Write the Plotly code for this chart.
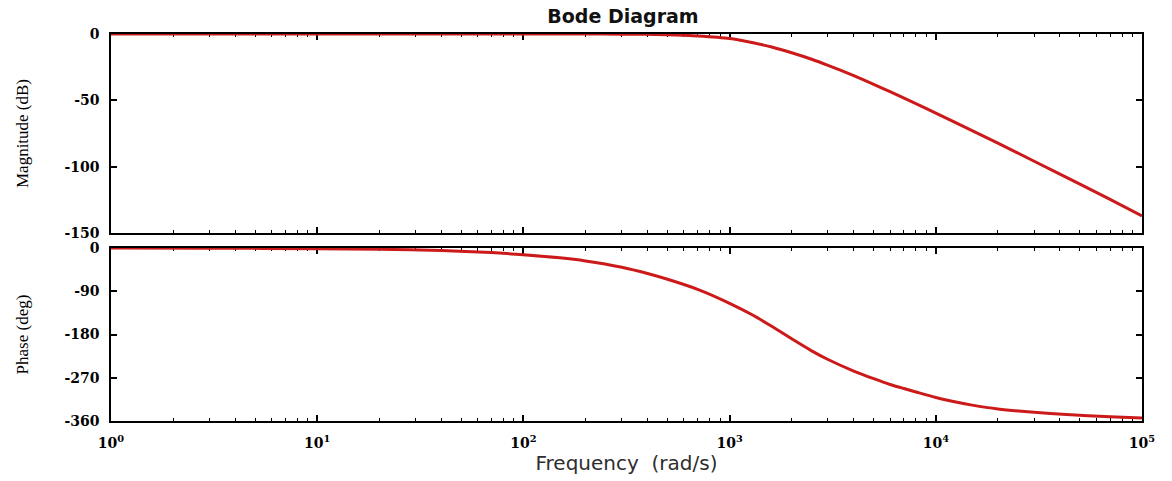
import plotly.graph_objects as go

# Frequency response samples (rad/s), magnitude (dB) and phase (deg)
freq_mag = [1, 10, 50, 100, 200, 300, 500, 700, 1000, 1300, 1600, 2000, 2500, 3000,
            4000, 5000, 6000, 8000, 10000, 15000, 20000, 30000, 50000, 70000, 100000]
magnitude_db = [0, 0, 0, 0, -0.05, -0.1, -0.5, -1.5, -3.4, -6.6, -9.8, -14.1, -19.0, -23.6,
                -31.4, -37.9, -43.5, -52.4, -59.6, -72.8, -82.3, -95.9, -113.2, -124.7, -137.1]

freq_phase = [1, 3, 10, 20, 40, 70, 100, 150, 200, 300, 400, 500, 700, 1000, 1300, 1600,
              2000, 2500, 3000, 4000, 5000, 6000, 7000, 8000, 10000, 12000, 15000, 20000,
              30000, 43000, 70000, 100000]
phase_deg = [0, -0.4, -1.3, -2.6, -5.2, -9.5, -14, -20.5, -27, -40, -53, -65, -86, -115,
             -140, -163, -189, -214, -232, -256, -272, -284, -292.5, -299.5, -311, -319,
             -327, -335, -342, -346.5, -351, -353.5]

# Axis ticks
x_ticks = [1, 10, 100, 1000, 10000, 100000]
x_ticktext = ["10<sup>0</sup>", "10<sup>1</sup>", "10<sup>2</sup>",
              "10<sup>3</sup>", "10<sup>4</sup>", "10<sup>5</sup>"]
mag_ticks = [0, -50, -100, -150]
mag_ticktext = ["0", "-50", "-100", "-150"]
phase_ticks = [0, -90, -180, -270, -360]
phase_ticktext = ["0", "-90", "-180", "-270", "-360"]

minor_x = [k * 10 ** d for d in range(5) for k in range(2, 10)]

LINE_COLOR = "#cc1a1a"
tick_font = dict(family="DejaVu Serif", size=14, color="black", weight="bold")
ytitle_font = dict(family="Liberation Serif", size=17, color="black")

fig = go.Figure()
fig.add_trace(go.Scatter(x=freq_mag, y=magnitude_db, mode="lines",
                         line=dict(color=LINE_COLOR, width=3, shape="spline", smoothing=0.6),
                         xaxis="x", yaxis="y", showlegend=False))
fig.add_trace(go.Scatter(x=freq_phase, y=phase_deg, mode="lines",
                         line=dict(color=LINE_COLOR, width=3, shape="spline", smoothing=0.6),
                         xaxis="x2", yaxis="y2", showlegend=False))

common_x = dict(
    type="log", range=[0, 5], tickvals=x_ticks, ticktext=x_ticktext,
    ticks="inside", ticklen=6, tickwidth=1.5, tickcolor="black",
    showline=True, linecolor="black", linewidth=1.5, mirror="allticks",
    showgrid=False, zeroline=False, layer="below traces",
    minor=dict(tickvals=minor_x, ticks="inside", ticklen=3, tickcolor="black", tickwidth=1),
    tickfont=tick_font, ticklabelstandoff=8,
)
common_y = dict(
    ticks="inside", ticklen=6, tickwidth=1.5, tickcolor="black",
    showline=True, linecolor="black", linewidth=1.5, mirror="allticks",
    showgrid=False, zeroline=False, layer="below traces",
    tickfont=tick_font, ticklabelstandoff=7,
)

fig.update_layout(
    width=1172, height=481,
    margin=dict(l=111, r=30, t=34, b=60),
    paper_bgcolor="white", plot_bgcolor="white",
    title=dict(text="Bode Diagram", x=623 / 1172, xanchor="center",
               y=1 - 16 / 481, yanchor="middle",
               font=dict(family="DejaVu Sans", size=19, color="#111111", weight="bold")),
    xaxis=dict(common_x, domain=[0, 1], anchor="y", showticklabels=False),
    yaxis=dict(common_y, domain=[0.4858, 1], anchor="x", range=[-150, 0],
               tickvals=mag_ticks, ticktext=mag_ticktext,
               title=dict(text="Magnitude (dB)", standoff=31, font=ytitle_font)),
    xaxis2=dict(common_x, domain=[0, 1], anchor="y2", showticklabels=True,
                title=dict(text="Frequency\u00a0\u00a0(rad/s)", standoff=3,
                           font=dict(family="DejaVu Sans", size=20, color="#2e2e2e"))),
    yaxis2=dict(common_y, domain=[0, 0.447], anchor="x2", range=[-360, 0],
                tickvals=phase_ticks, ticktext=phase_ticktext,
                title=dict(text="Phase (deg)", standoff=31, font=ytitle_font)),
)

fig.write_html("out.html")
